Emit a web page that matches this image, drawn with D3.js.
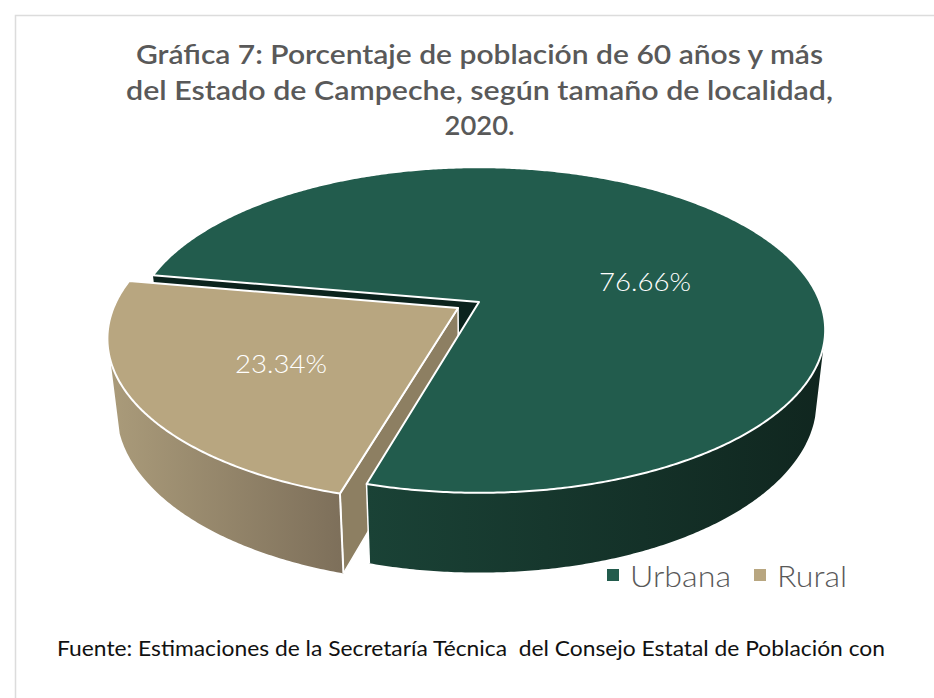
<!DOCTYPE html>
<html>
<head>
<meta charset="utf-8">
<script src="https://cdn.jsdelivr.net/npm/d3@7"></script>
<style>
    html, body { margin: 0; padding: 0; background: #fff; }
    svg { display: block; }
    text { font-family: Lato, sans-serif; }
</style>
</head>
<body>
<div id="chart"></div>
<script>
var categories = ["Urbana", "Rural"];
var values = [76.66, 23.34];
var valueLabels = ["76.66%", "23.34%"];
var titleLines = [
    "Gráfica 7: Porcentaje de población de 60 años y más",
    "del Estado de Campeche, según tamaño de localidad,",
    "2020."
];
var footnote = "Fuente: Estimaciones de la Secretaría Técnica  del Consejo Estatal de Población con";

var width = 934, height = 698;
var colors = ["#225c4d", "#b8a680"];

var svg = d3.select("#chart").append("svg")
    .attr("width", width)
    .attr("height", height);

var defs = svg.append("defs");

function gradient(id, from, to) {
    var g = defs.append("linearGradient").attr("id", id);
    g.append("stop").attr("offset", "0%").attr("stop-color", from);
    g.append("stop").attr("offset", "100%").attr("stop-color", to);
}
gradient("wall-urbana", "#1a4236", "#10261f");
gradient("wall-rural", "#aa9b7a", "#7d6f5a");

// Frame
svg.append("path")
    .attr("d", "M15.5,698V15.5H934")
    .attr("fill", "none")
    .attr("stroke", "#dcdcdc")
    .attr("stroke-width", 1.5);

// Title, stretched to the reference widths
var titleWidth = [687, 707, 70],
    titleY = [64, 100, 135];
svg.append("g").selectAll("text")
    .data(titleLines)
    .enter()
    .append("text")
    .attr("x", 479.5)
    .attr("y", function (d, i) { return titleY[i]; })
    .attr("text-anchor", "middle")
    .attr("fill", "#595959")
    .attr("font-size", 26)
    .attr("font-weight", 600)
    .attr("textLength", function (d, i) { return titleWidth[i]; })
    .attr("lengthAdjust", "spacingAndGlyphs")
    .text(function (d) { return d; });

// Perspective of the pie: a flat disc seen from above
var cx = 479, cy = 302,
    radiusX = 341, radiusY = 158,
    persp = 0.172,
    depth = 70, shrink = 0.975,
    explode = 0.072;

function project(u, v, lower) {
    var w = 1 / (1 - persp * v),
        s = lower ? shrink : 1;
    return [
        cx + radiusX * u * w * s,
        cy + radiusY * v * w * s + (lower ? depth * w : 0)
    ];
}

function discPoint(angle, r, off) {
    return [off[0] + r * Math.sin(angle), off[1] - r * Math.cos(angle)];
}

var deg = Math.PI / 180;
var pie = d3.pie().sort(null).value(function (d) { return d; })
    .startAngle(280 * deg)
    .endAngle(640 * deg);
var slices = pie(values);
var line = d3.line();

function rim(a0, a1, off, lower, r) {
    var n = Math.ceil(Math.abs(a1 - a0) / deg) * 2 || 1;
    return d3.range(n + 1).map(function (i) {
        var p = discPoint(a0 + (a1 - a0) * i / n, r, off);
        return project(p[0], p[1], lower);
    });
}

function topPath(s, off, r) {
    var c = project(off[0], off[1], false);
    return line([c].concat(rim(s.startAngle, s.endAngle, off, false, r))) + "Z";
}

function wallPath(a0, a1, off, r) {
    return line(rim(a0, a1, off, false, r).concat(rim(a0, a1, off, true, r).reverse())) + "Z";
}

function facePath(angle, off, r) {
    var p = discPoint(angle, r, off);
    return line([
        project(off[0], off[1], false),
        project(p[0], p[1], false),
        project(p[0], p[1], true),
        project(off[0], off[1], true)
    ]) + "Z";
}

// vertical white edge at a slice corner
function edgePath(angle, off, r) {
    var p = discPoint(angle, r, off);
    return line([project(p[0], p[1], false), project(p[0], p[1], true)]);
}

var urbana = slices[0], rural = slices[1];
var noOffset = [0, 0];
var midRural = (rural.startAngle + rural.endAngle) / 2;
var ruralOffset = [explode * Math.sin(midRural), -explode * Math.cos(midRural)];
var ruralRadius = 1.004;

var pieGroup = svg.append("g");

// Inner face of Urbana seen behind the exploded slice
pieGroup.append("path")
    .attr("d", facePath(urbana.startAngle, noOffset, 1))
    .attr("fill", "#0b231d");

// Rural
pieGroup.append("path")
    .attr("d", facePath(rural.startAngle, ruralOffset, ruralRadius))
    .attr("fill", "#8d7f62")
    .attr("stroke", "#fff")
    .attr("stroke-width", 1.5)
    .attr("stroke-linejoin", "round");
pieGroup.append("path")
    .attr("d", wallPath(rural.startAngle, rural.startAngle + 56 * deg, ruralOffset, ruralRadius))
    .attr("fill", "url(#wall-rural)");
pieGroup.append("path")
    .attr("d", edgePath(rural.startAngle, ruralOffset, ruralRadius))
    .attr("fill", "none")
    .attr("stroke", "#fff")
    .attr("stroke-width", 2);
pieGroup.append("path")
    .attr("d", topPath(rural, ruralOffset, ruralRadius))
    .attr("fill", colors[1])
    .attr("stroke", "#fff")
    .attr("stroke-width", 2)
    .attr("stroke-linejoin", "round");

// Urbana
pieGroup.append("path")
    .attr("d", wallPath(105 * deg, urbana.endAngle - 2 * Math.PI, noOffset, 1))
    .attr("fill", "url(#wall-urbana)");
pieGroup.append("path")
    .attr("d", edgePath(urbana.endAngle, noOffset, 1))
    .attr("fill", "none")
    .attr("stroke", "#fff")
    .attr("stroke-width", 1.5);
pieGroup.append("path")
    .attr("d", topPath(urbana, noOffset, 1))
    .attr("fill", colors[0])
    .attr("stroke", "#fff")
    .attr("stroke-width", 2)
    .attr("stroke-linejoin", "round");

// Value labels
var labelPos = [[645, 291], [281, 373]];
svg.append("g").selectAll("text")
    .data(valueLabels)
    .enter()
    .append("text")
    .attr("x", function (d, i) { return labelPos[i][0]; })
    .attr("y", function (d, i) { return labelPos[i][1]; })
    .attr("text-anchor", "middle")
    .attr("fill", "#fff")
    .attr("font-size", 26)
    .attr("font-weight", 300)
    .attr("textLength", 92)
    .attr("lengthAdjust", "spacingAndGlyphs")
    .text(function (d) { return d; });

// Legend
var legendX = [607, 754],
    legendWidth = [101, 70];
var legend = svg.append("g").selectAll("g")
    .data(categories)
    .enter()
    .append("g")
    .attr("transform", function (d, i) { return "translate(" + legendX[i] + ",569)"; });

legend.append("rect")
    .attr("width", 12)
    .attr("height", 12)
    .attr("fill", function (d, i) { return colors[i]; });

legend.append("text")
    .attr("x", 23)
    .attr("y", 18)
    .attr("fill", "#595959")
    .attr("font-size", 29)
    .attr("font-weight", 300)
    .attr("textLength", function (d, i) { return legendWidth[i]; })
    .attr("lengthAdjust", "spacingAndGlyphs")
    .text(function (d) { return d; });

// Source
svg.append("text")
    .attr("x", 57)
    .attr("y", 656)
    .attr("fill", "#111")
    .attr("font-size", 22)
    .attr("textLength", 828)
    .attr("lengthAdjust", "spacingAndGlyphs")
    .style("white-space", "pre")
    .text(footnote);
</script>
</body>
</html>
